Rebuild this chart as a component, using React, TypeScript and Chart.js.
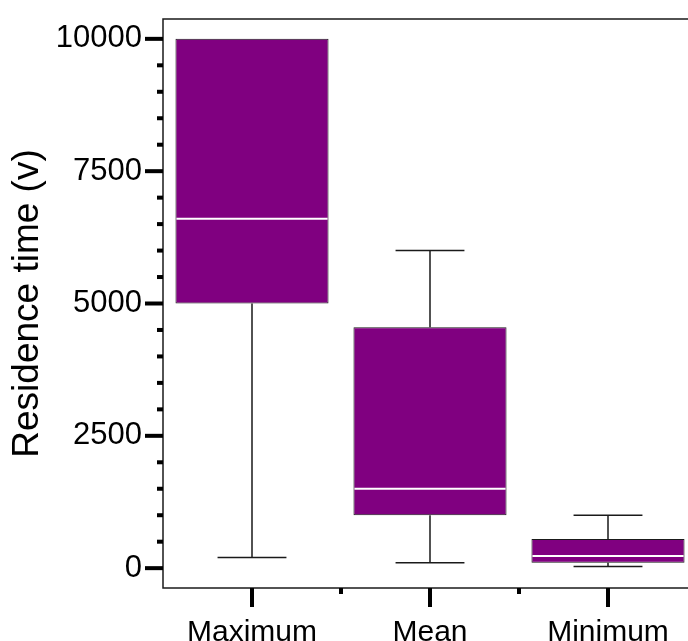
import React, { useEffect, useRef } from "react";
import { Chart, registerables } from "chart.js";

Chart.register(...registerables);

const categories = ["Maximum", "Mean", "Minimum"];
const whiskerMin = [200, 100, 30];
const q1 = [5000, 1000, 100];
const median = [6600, 1500, 230];
const q3 = [10000, 4550, 550];
const whiskerMax = [10000, 6000, 1000];
const yTicks = [0, 2500, 5000, 7500, 10000];
const yMinorStep = 500;
const yTitle = "Residence time (v)";

const FONT = "'Liberation Sans', Arial, Helvetica, sans-serif";
const BOX_COLOR = "#800080";
const LINE_COLOR = "#1a1a1a";

const boxPlugin = {
  id: "boxWhiskers",
  beforeDatasetsDraw(chart: any) {
    const ctx = chart.ctx;
    const y = chart.scales.y;
    const meta = chart.getDatasetMeta(0);
    ctx.save();
    ctx.strokeStyle = LINE_COLOR;
    ctx.lineWidth = 1.5;
    meta.data.forEach((bar: any, i: number) => {
      const { x, width } = bar.getProps(["x", "width"], true);
      const capHalf = width * 0.225;
      const pMin = y.getPixelForValue(whiskerMin[i]);
      const pMax = y.getPixelForValue(whiskerMax[i]);
      const pQ1 = y.getPixelForValue(q1[i]);
      const pQ3 = y.getPixelForValue(q3[i]);
      ctx.beginPath();
      if (whiskerMin[i] < q1[i]) {
        ctx.moveTo(x, pQ1);
        ctx.lineTo(x, pMin);
        ctx.moveTo(x - capHalf, pMin);
        ctx.lineTo(x + capHalf, pMin);
      }
      if (whiskerMax[i] > q3[i]) {
        ctx.moveTo(x, pQ3);
        ctx.lineTo(x, pMax);
        ctx.moveTo(x - capHalf, pMax);
        ctx.lineTo(x + capHalf, pMax);
      }
      ctx.stroke();
    });
    ctx.restore();
  },
  afterDatasetsDraw(chart: any) {
    const ctx = chart.ctx;
    const y = chart.scales.y;
    const meta = chart.getDatasetMeta(0);
    ctx.save();
    ctx.strokeStyle = "#ffffff";
    ctx.lineWidth = 2;
    meta.data.forEach((bar: any, i: number) => {
      const { x, width } = bar.getProps(["x", "width"], true);
      const pMed = y.getPixelForValue(median[i]);
      ctx.beginPath();
      ctx.moveTo(x - width / 2 + 1, pMed);
      ctx.lineTo(x + width / 2 - 1, pMed);
      ctx.stroke();
    });
    ctx.restore();
  },
  afterDraw(chart: any) {
    const ctx = chart.ctx;
    const { left, right, top, bottom } = chart.chartArea;
    const x = chart.scales.x;
    const y = chart.scales.y;
    ctx.save();
    ctx.strokeStyle = LINE_COLOR;
    ctx.lineWidth = 1.5;
    ctx.strokeRect(left, top, right - left, bottom - top);
    ctx.fillStyle = "#000";
    const yMaxTick = yTicks[yTicks.length - 1];
    for (let v = yTicks[0]; v <= yMaxTick; v += yMinorStep) {
      const p = y.getPixelForValue(v);
      const major = yTicks.includes(v);
      const len = major ? 18 : 6;
      ctx.fillRect(left - len, p - 2, len, 4);
    }
    for (let i = 0; i < categories.length; i++) {
      const p = x.getPixelForValue(i);
      ctx.fillRect(p - 2, bottom, 4, 19);
      if (i < categories.length - 1) {
        const m = (p + x.getPixelForValue(i + 1)) / 2;
        ctx.fillRect(m - 2, bottom, 4, 6);
      }
    }
    ctx.restore();
  },
};

export default function App() {
  const ref = useRef<HTMLCanvasElement | null>(null);
  useEffect(() => {
    if (!ref.current) return;
    const chart = new Chart(ref.current, {
      type: "bar",
      data: {
        labels: categories,
        datasets: [
          {
            data: categories.map((_, i) => [q1[i], q3[i]]) as any,
            backgroundColor: BOX_COLOR,
            borderColor: LINE_COLOR,
            borderWidth: 1,
            borderSkipped: false,
            categoryPercentage: 1,
            barPercentage: 0.86,
          },
        ],
      },
      options: {
        responsive: false,
        animation: false,
        layout: { padding: { top: 19, right: 3, left: 0, bottom: 0 } },
        plugins: {
          legend: { display: false },
          tooltip: { enabled: false },
        },
        scales: {
          x: {
            grid: { display: false, drawTicks: false },
            border: { display: false },
            ticks: {
              color: "#000",
              padding: 27,
              font: { family: FONT, size: 30 },
              maxRotation: 0,
            },
            afterFit: (s: any) => {
              s.height = 53;
              s.paddingLeft = 0;
              s.paddingRight = 0;
            },
          },
          y: {
            min: -375,
            max: 10375,
            grid: { display: false, drawTicks: false },
            border: { display: false },
            afterBuildTicks: (s: any) => {
              s.ticks = yTicks.map((v) => ({ value: v }));
            },
            ticks: {
              color: "#000",
              padding: 21,
              font: { family: FONT, size: 31 },
              callback: (v: any) => String(v),
            },
            title: {
              display: true,
              text: yTitle,
              color: "#000",
              font: { family: FONT, size: 37 },
              padding: { top: 6, bottom: 0 },
            },
            afterFit: (s: any) => {
              s.width = 163;
              s.paddingTop = 0;
              s.paddingBottom = 0;
            },
          },
        },
      },
      plugins: [boxPlugin],
    });
    return () => chart.destroy();
  }, []);
  return (
    <div
      style={{
        position: "fixed",
        left: 0,
        top: 0,
        width: 688,
        height: 641,
        overflow: "hidden",
        background: "#fff",
      }}
    >
      <canvas ref={ref} width={700} height={641} style={{ display: "block" }} />
    </div>
  );
}
